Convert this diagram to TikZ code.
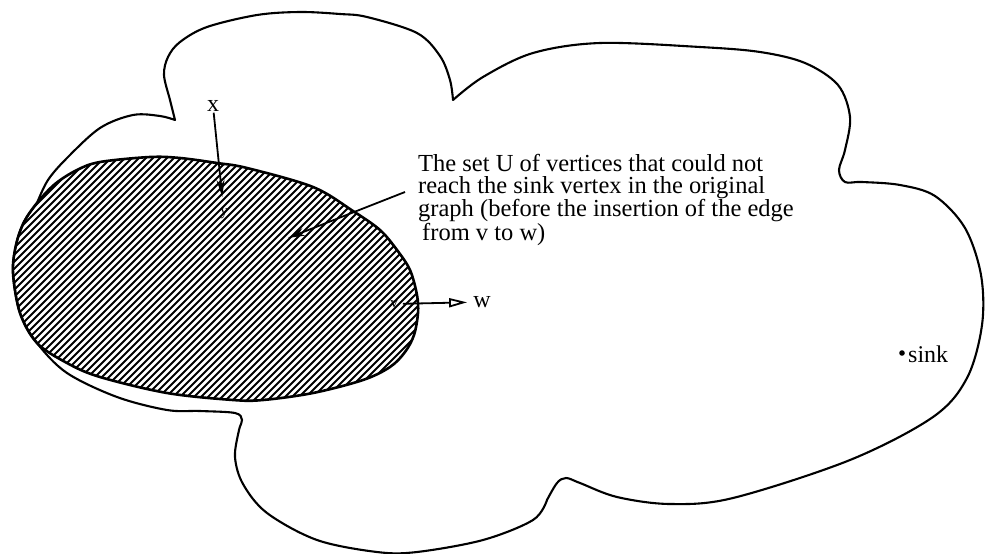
\documentclass[tikz,border=0pt]{standalone}
\usepackage{fontspec}
\setmainfont{Liberation Serif}
\usetikzlibrary{arrows.meta}
\begin{document}
\begin{tikzpicture}[x=1pt,y=-1pt,
  outline/.style={line width=2.1pt,line join=round,line cap=round},
  setline/.style={line width=2.6pt,line join=round},
  hatch/.style={line width=1.9pt},
  lbl/.style={inner sep=1pt,font=\fontsize{24}{24}\selectfont},
  small/.style={inner sep=1pt,font=\fontsize{15}{15}\selectfont},
  body/.style={inner sep=0pt,align=left,font=\fontsize{24.5}{22}\selectfont},
  pointer/.style={line width=1.8pt,-{Stealth[length=17pt,width=8pt]}},
  edgearrow/.style={line width=1.8pt,-{Triangle[open,length=18pt,width=9pt,line width=1.8pt]}}]
\useasboundingbox (0,0) rectangle (985,554);
\def\Ushape{plot[smooth cycle,tension=0.55] coordinates {(13,273)(16,245)(24,222)(37,203)(55,184)(77,170)(100,162)(150,157)(180,158)(217,163)(247,168)(313,187)(353,211)(380,230)(397,250)(410,270)(417,295)(418,313)(414,335)(405,352)(390,367)(363,380)(313,393)(263,400)(233,400)(167,393)(100,377)(67,363)(37,343)(20,313)}}
% hatched set U
\begin{scope}
  \clip \Ushape;
  \foreach \i in {-420,-413,...,440} \draw[hatch] (\i,430) -- ++(300,-300);
\end{scope}
\draw[setline] \Ushape;
% cloud outline (the whole graph)
\draw[outline]
  plot[smooth,tension=0.55] coordinates {(37,203)(48,180)(67,158)(100,128)(133,115)(160,116)(175,120)}
  -- plot[smooth,tension=0.55] coordinates {(175,120)(170,100)(164,75)(168,57)(180,42)(207,27)(257,15)(300,12)(340,14)(367,17)(417,33)(440,56)(450,80)(453,100)}
  -- plot[smooth,tension=0.55] coordinates {(453,100)(483,77)(533,53)(600,43)(700,47)(760,52)(805,63)(838,85)(850,117)(845,150)(839,170)(845,182)(862,182)(900,185)(935,196)(965,228)(981,275)(982,325)(967,378)(933,417)(850,460)(733,498)(670,504)(617,497)(580,483)(566,478)(557,483)(547,500)}
  -- plot[smooth,tension=0.55] coordinates {(547,500)(533,520)(483,540)(417,552)(377,552)(317,540)(267,513)(243,484)(235,457)(239,430)(242,420)(235,413)(200,411)(167,410)(117,397)(67,373)(37,343)(20,313)(13,273)(16,245)(24,222)(37,203)};
% labels
\node[lbl] (x) at (213,106) {x};
\node[small] (y) at (224,214) {y};
\node[small] (v) at (394,304) {v};
\node[lbl] (w) at (482,302) {w};
\node[body,anchor=north west] (txt) at (418,154) {The set U of vertices that could not\\reach the sink vertex in the original\\graph (before the insertion of the edge\\\hspace{4pt}from v to w)};
\fill (902,353) circle (2.8pt) coordinate (sinkdot);
\node[lbl,anchor=base west,inner sep=0pt] (sink) at (908,362) {sink};
% connectors
\coordinate (ptrstart) at (405,192);
\coordinate (ptrend) at (288,238);
\draw[pointer,shorten >=11pt] (x) -- (y);
\draw[pointer] (ptrstart) -- (ptrend);
\draw[edgearrow,shorten <=4pt,shorten >=5pt] (v) -- (w);
\end{tikzpicture}
\end{document}
